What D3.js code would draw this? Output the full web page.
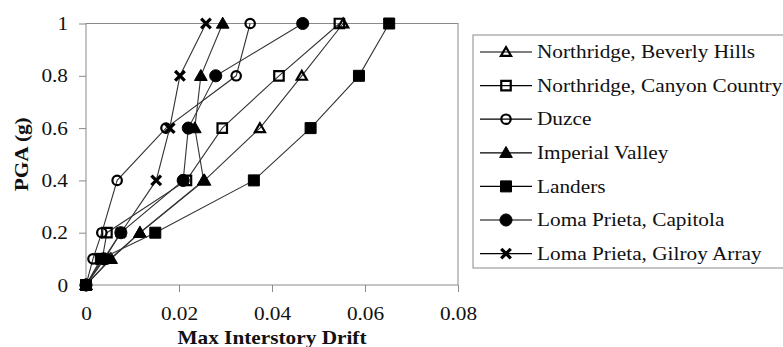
<!DOCTYPE html>
<html lang="en">
<head>
  <meta charset="UTF-8">
  <script src="https://d3js.org/d3.v7.min.js"></script>
  <title>PGA vs Max Interstory Drift</title>
  <style>
    body { margin: 0; background: #fff; }
  </style>
</head>
<body>
  <svg style="width:783px;height:347px"></svg>
  <script>
    // PGA levels (g) - same for every record
    const pga = [0, 0.1, 0.2, 0.4, 0.6, 0.8, 1];

    const names = [
      "Northridge, Beverly Hills",
      "Northridge, Canyon Country",
      "Duzce",
      "Imperial Valley",
      "Landers",
      "Loma Prieta, Capitola",
      "Loma Prieta, Gilroy Array"
    ];

    // max interstory drift
    const driftBeverly  = [0, 0.0052, 0.0116, 0.0255, 0.0374, 0.0464, 0.0553];
    const driftCanyon   = [0, 0.0035, 0.0045, 0.0216, 0.0293, 0.0415, 0.0545];
    const driftDuzce    = [0, 0.0015, 0.0034, 0.0067, 0.0172, 0.0323, 0.0353];
    const driftImperial = [0, 0.0054, 0.0116, 0.0253, 0.0234, 0.0247, 0.0294];
    const driftLanders  = [0, 0.0032, 0.0149, 0.0361, 0.0483, 0.0587, 0.0652];
    const driftCapitola = [0, 0.0038, 0.0075, 0.0209, 0.0220, 0.0279, 0.0466];
    const driftGilroy   = [0, 0.0040, 0.0075, 0.0151, 0.0180, 0.0202, 0.0258];

    const drifts = [driftBeverly, driftCanyon, driftDuzce, driftImperial, driftLanders, driftCapitola, driftGilroy];

    const xTicks = [0, 0.02, 0.04, 0.06, 0.08];
    const yTicks = [0, 0.2, 0.4, 0.6, 0.8, 1];

    // marker kind for each series
    const markers = ["triOpen", "sqOpen", "circOpen", "triFill", "sqFill", "circFill", "x"];

    const FONT = "Liberation Serif";
    const svg = d3.select("svg");
    const m = { left: 86, right: 458, top: 23.5, bottom: 285 };

    const xScale = d3.scaleLinear().domain([0, 0.08]).range([m.left, m.right]);
    const yScale = d3.scaleLinear().domain([0, 1]).range([m.bottom, m.top]);

    // stretch text a bit wider, the original is squeezed vertically
    const stretch = (sel) => sel.each(function() {
      const w = this.getComputedTextLength();
      this.setAttribute("textLength", w * 1.12);
      this.setAttribute("lengthAdjust", "spacingAndGlyphs");
    });

    const fmt = (d) => String(d);

    const xAxis = d3.axisBottom(xScale).tickValues(xTicks).tickSize(7).tickPadding(14.5).tickFormat(fmt);
    const yAxis = d3.axisLeft(yScale).tickValues(yTicks).tickSize(7).tickPadding(11).tickFormat(fmt);

    const xg = svg.append("g").attr("id", "xAxisG")
      .attr("transform", `translate(0,${m.bottom})`).call(xAxis);
    const yg = svg.append("g").attr("id", "yAxisG")
      .attr("transform", `translate(${m.left},0)`).call(yAxis);

    [xg, yg].forEach(g => {
      g.attr("font-family", FONT).attr("font-size", 19);
      g.select("path.domain").remove();
      g.selectAll(".tick line").attr("stroke", "#8a8a8a");
      g.selectAll(".tick text").attr("fill", "#111").call(stretch);
    });

    // plot frame
    svg.append("rect")
      .attr("x", m.left).attr("y", m.top)
      .attr("width", m.right - m.left).attr("height", m.bottom - m.top)
      .style("fill", "none").style("stroke", "#8a8a8a").style("stroke-width", "1px");

    const drawMarker = (g, kind, cx, cy) => {
      if (kind === "x") {
        const r = 4.8;
        g.append("path")
          .attr("d", `M${cx - r},${cy - r}L${cx + r},${cy + r}M${cx - r},${cy + r}L${cx + r},${cy - r}`)
          .style("stroke", "#000").style("stroke-width", "3.2px").style("fill", "none");
        return;
      }
      const filled = kind.endsWith("Fill");
      let type, size;
      if (kind.startsWith("tri")) { type = d3.symbolTriangle; size = filled ? 70 : 45; }
      else if (kind.startsWith("sq")) { type = d3.symbolSquare; size = filled ? 121 : 90; }
      else { type = d3.symbolCircle; size = filled ? 115 : 70; }
      const p = g.append("path")
        .attr("d", d3.symbol().type(type).size(size)())
        .attr("transform", `translate(${cx},${cy + (kind.startsWith("tri") ? 1 : 0)})`);
      if (filled) p.style("fill", "#000").style("stroke", "#000").style("stroke-width", "1px");
      else p.style("fill", "none").style("stroke", "#000").style("stroke-width", "2.2px");
    };

    const line = d3.line().x(d => xScale(d[0])).y(d => yScale(d[1]));

    drifts.forEach((drift, i) => {
      const g = svg.append("g").attr("class", "series");
      const pts = drift.map((v, j) => [v, pga[j]]);
      g.append("path")
        .attr("d", line(pts))
        .style("fill", "none").style("stroke", "#333").style("stroke-width", "1.1px");
      pts.forEach(p => drawMarker(g, markers[i], xScale(p[0]), yScale(p[1])));
    });

    // axis titles
    svg.append("text")
      .attr("x", (m.left + m.right) / 2).attr("y", 344)
      .attr("text-anchor", "middle")
      .attr("font-family", FONT).attr("font-size", 19).attr("font-weight", "bold").attr("fill", "#111")
      .text("Max Interstory Drift").call(stretch);

    svg.append("text")
      .attr("transform", `translate(28,${(m.top + m.bottom) / 2}) rotate(-90)`)
      .attr("text-anchor", "middle")
      .attr("font-family", FONT).attr("font-size", 19).attr("font-weight", "bold").attr("fill", "#111")
      .text("PGA (g)").call(stretch);

    // legend
    const lg = svg.append("g").attr("class", "legend");
    lg.append("rect")
      .attr("x", 473).attr("y", 35).attr("width", 330).attr("height", 233)
      .style("fill", "#fff").style("stroke", "#8a8a8a").style("stroke-width", "1px");

    names.forEach((name, i) => {
      const cy = 52 + i * 33.6;
      lg.append("line")
        .attr("x1", 480).attr("x2", 532).attr("y1", cy).attr("y2", cy)
        .style("stroke", "#000").style("stroke-width", "1.2px");
      drawMarker(lg, markers[i], 506, cy);
      lg.append("text")
        .attr("x", 537).attr("y", cy).attr("dy", "0.33em")
        .attr("font-family", FONT).attr("font-size", 19).attr("fill", "#111")
        .text(name).call(stretch);
    });
  </script>
</body>
</html>
